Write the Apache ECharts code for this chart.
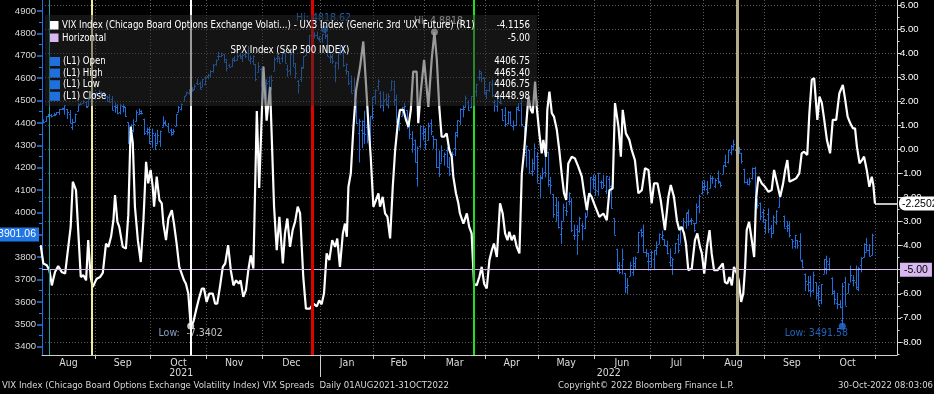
<!DOCTYPE html>
<html>
<head>
<meta charset="utf-8">
<script src="https://cdn.jsdelivr.net/npm/echarts@6.0.0/dist/echarts.min.js"></script>
<style>
html,body{margin:0;padding:0;background:#000;overflow:hidden}
#chart{width:934px;height:394px}
</style>
</head>
<body>
<div id="chart"></div>
<script>
// ================= DATA =================
// x axis = trading-day index counted from 02-Aug-2021 (Bloomberg trading-day spacing)
const monthNames    = ['Aug','Sep','Oct','Nov','Dec','Jan','Feb','Mar','Apr','May','Jun','Jul','Aug','Sep','Oct'];
const monthStartIdx = [0,22,43,64,85,107,127,146,169,189,210,231,251,274,295,316];
const yearNames     = ['2021','2022'];
const yearStartIdx  = [0,107];
const leftTicks  = [3400,3500,3600,3700,3800,3900,4000,4100,4200,4300,4400,4500,4600,4700,4800,4900];
const rightTicks = [-8,-7,-6,-5,-4,-3,-2,-1,0,1,2,3,4,5,6];

// SPX daily bars (Aug-2021 .. 28-Oct-2022), one row per month
const spxOpen = [
4406,4392,4415,4408,4429,4437,4436,4442,4447,4464,4462,4462,4441,4383,4406,4454,4484,4490,4493,4474,4514,4529,
4528,4534,4532,4536,4518,4514,4506,4474,4479,4447,4477,4469,4402,4375,4367,4410,4439,4443,4419,4363,4371,
4317,4348,4310,4319,4383,4406,4386,4368,4358,4386,4447,4464,4497,4524,4532,4553,4553,4579,4579,4562,4572,
4610,4614,4630,4662,4700,4701,4707,4670,4659,4655,4689,4679,4702,4700,4708,4712,4679,4675,4664,4628,4640,
4602,4505,4589,4548,4632,4691,4691,4688,4711,4642,4636,4720,4652,4587,4595,4645,4703,4733,4795,4788,4794,4775,
4778,4804,4787,4693,4697,4655,4669,4728,4733,4637,4632,4588,4548,4471,4357,4367,4408,4381,4337,4431,
4519,4566,4535,4482,4505,4480,4548,4553,4506,4412,4430,4456,4456,4385,4332,4324,4155,4299,4354,
4363,4322,4401,4343,4327,4203,4223,4253,4280,4203,4188,4288,4345,4407,4463,4469,4494,4470,4522,4541,4603,4624,4599,
4540,4547,4573,4495,4475,4494,4463,4437,4398,4449,4385,4390,4473,4490,4385,4256,4279,4187,4222,4253,
4130,4159,4181,4271,4128,4081,4035,3990,3903,3963,4013,4053,4051,3900,3928,3919,3943,3930,3985,4077,4151,
4149,4096,4137,4134,4097,4148,4101,3974,3838,3764,3764,3729,3665,3716,3733,3774,3821,3920,3913,3825,3785,
3782,3792,3831,3859,3889,3880,3851,3778,3764,3818,3883,3861,3936,3955,4001,3965,3954,3951,4027,4088,
4113,4105,4107,4154,4116,4156,4134,4171,4227,4225,4269,4284,4281,4274,4267,4195,4134,4127,4154,4199,4035,4042,4001,
3937,3994,3931,3910,3959,4023,4084,3986,3941,3932,3880,3849,3875,3871,3782,3727,3682,3687,3652,3688,3633,
3610,3726,3753,3771,3707,3647,3595,3590,3520,3691,3638,3746,3696,3689,3657,3763,3799,3825,3834,3808
];
const spxHigh = [
4422,4424,4416,4429,4440,4440,4445,4449,4461,4468,4480,4462,4457,4418,4441,4489,4492,4501,4496,4513,4538,4531,
4537,4546,4541,4536,4521,4529,4521,4492,4485,4486,4485,4471,4403,4394,4416,4457,4464,4457,4419,4379,4382,
4375,4356,4369,4365,4429,4412,4400,4375,4373,4439,4475,4487,4520,4540,4551,4560,4572,4598,4585,4597,4608,
4620,4635,4664,4683,4718,4714,4708,4685,4664,4688,4698,4714,4708,4708,4717,4744,4701,4702,4664,4672,4646,
4652,4595,4608,4613,4694,4705,4695,4713,4712,4660,4712,4731,4667,4592,4651,4697,4741,4791,4807,4805,4808,4787,
4797,4818.62,4798,4726,4708,4673,4714,4749,4745,4666,4632,4612,4602,4494,4417,4411,4454,4429,4432,4516,
4550,4595,4542,4540,4531,4532,4590,4589,4527,4427,4472,4490,4456,4395,4363,4325,4295,4385,4388,
4378,4401,4416,4343,4327,4277,4299,4268,4292,4247,4272,4358,4412,4465,4479,4522,4501,4520,4546,4575,4637,4627,4604,
4549,4583,4594,4503,4521,4521,4463,4471,4453,4452,4411,4471,4489,4512,4386,4300,4279,4240,4308,4270,
4169,4200,4308,4271,4158,4082,4069,4050,3964,4039,4047,4090,4063,3945,3944,3981,3955,3999,4075,4158,4169,
4167,4177,4143,4168,4164,4161,4120,3974,3838,3779,3838,3729,3707,3779,3801,3803,3914,3928,3946,3837,3819,
3830,3832,3871,3906,3919,3880,3874,3839,3796,3863,3903,3939,3975,3999,4013,3975,3954,4040,4079,4141,
4144,4141,4167,4162,4152,4187,4137,4211,4258,4280,4301,4325,4302,4292,4267,4195,4149,4156,4200,4204,4062,4044,4016,
3970,4018,3943,3987,4010,4077,4119,3986,3961,3959,3880,3900,3877,3907,3790,3727,3716,3717,3736,3688,3672,
3680,3792,3807,3797,3710,3652,3640,3608,3685,3712,3683,3762,3719,3763,3757,3800,3862,3886,3859,3905
];
const spxLow = [
4384,4373,4398,4404,4425,4424,4430,4436,4435,4460,4437,4418,4399,4368,4404,4451,4479,4486,4468,4474,4514,4513,
4522,4529,4521,4513,4494,4493,4457,4446,4438,4438,4447,4427,4306,4347,4359,4407,4437,4437,4346,4345,4306,
4289,4279,4304,4293,4383,4386,4360,4342,4348,4386,4447,4456,4496,4524,4526,4538,4547,4570,4551,4560,4568,
4595,4604,4624,4655,4681,4694,4670,4630,4648,4650,4672,4679,4688,4672,4690,4682,4662,4660,4586,4626,4560,
4510,4505,4496,4547,4632,4670,4666,4670,4667,4606,4612,4651,4598,4531,4583,4645,4703,4733,4780,4778,4775,4766,
4758,4775,4699,4667,4663,4582,4638,4703,4651,4615,4568,4533,4474,4395,4223,4287,4306,4309,4265,4415,
4484,4544,4465,4451,4477,4465,4548,4477,4401,4364,4429,4427,4373,4327,4267,4223,4115,4287,4322,
4279,4322,4345,4284,4199,4158,4223,4209,4202,4162,4188,4252,4335,4390,4425,4469,4455,4465,4501,4518,4589,4582,4530,
4507,4539,4514,4450,4450,4484,4409,4382,4393,4392,4367,4390,4455,4384,4268,4201,4175,4163,4188,4132,
4062,4148,4157,4115,4081,3976,3958,3928,3859,3963,3984,4033,3912,3877,3810,3909,3875,3925,3985,4077,4104,
4074,4074,4107,4109,4081,4107,4017,3900,3734,3725,3723,3639,3637,3716,3717,3743,3821,3889,3821,3800,3739,
3753,3742,3809,3859,3876,3850,3812,3758,3721,3818,3818,3861,3924,3927,3939,3944,3911,3951,3996,4079,
4097,4079,4107,4128,4108,4128,4112,4171,4202,4219,4256,4277,4254,4262,4218,4130,4124,4120,4147,4057,4017,3965,3955,
3904,3907,3886,3906,3945,4023,4084,3932,3912,3888,3838,3838,3838,3789,3750,3648,3644,3623,3641,3610,3584,
3590,3726,3723,3740,3632,3588,3568,3572,3491.58,3584,3638,3687,3669,3656,3648,3732,3799,3825,3803,3808
];
const spxClose = [
4387,4423,4402,4429,4437,4432,4436,4447,4460,4468,4479,4449,4400,4406,4442,4480,4486,4497,4470,4509,4529,4523,
4524,4537,4535,4520,4514,4493,4459,4469,4443,4481,4474,4433,4358,4354,4396,4449,4455,4443,4353,4359,4308,
4357,4300,4346,4364,4399,4391,4361,4351,4364,4438,4471,4486,4520,4537,4550,4545,4567,4575,4552,4596,4605,
4614,4631,4660,4680,4697,4702,4685,4646,4650,4683,4683,4701,4689,4705,4698,4683,4691,4701,4595,4655,4567,
4513,4577,4538,4592,4686,4701,4668,4712,4669,4634,4710,4669,4621,4568,4650,4697,4726,4791,4786,4793,4778,4766,
4797,4794,4701,4696,4677,4670,4713,4726,4659,4663,4577,4533,4483,4398,4410,4357,4350,4327,4432,4516,
4546,4589,4478,4501,4484,4522,4587,4504,4419,4401,4471,4475,4380,4349,4305,4226,4288,4385,4374,
4306,4387,4364,4329,4201,4171,4278,4260,4204,4173,4262,4358,4412,4463,4461,4512,4456,4520,4543,4575,4632,4602,4530,
4546,4583,4525,4481,4500,4488,4413,4397,4447,4392,4392,4463,4459,4394,4272,4296,4175,4184,4288,4132,
4155,4175,4301,4147,4123,3991,4001,3935,3930,4024,4008,4089,3923,3901,3901,3974,3941,3979,4058,4158,4132,
4101,4177,4109,4121,4161,4116,4018,3901,3750,3735,3790,3667,3675,3765,3760,3796,3912,3900,3821,3819,3785,
3825,3831,3845,3903,3899,3855,3819,3802,3790,3863,3831,3937,3960,3999,3962,3967,3921,4024,4072,4130,
4119,4091,4155,4152,4145,4140,4122,4210,4208,4280,4297,4305,4275,4284,4228,4138,4128,4141,4200,4058,4031,3986,3955,
3967,3924,3908,3980,4006,4067,4110,3932,3946,3901,3873,3900,3856,3789,3758,3693,3655,3647,3719,3640,3586,
3678,3791,3783,3745,3640,3612,3589,3577,3670,3583,3678,3720,3696,3666,3753,3797,3859,3831,3807,3901.06
];

// VIX Index - UX3 Index spread (R1): [trading-day position, value]
const spreadPoints = [
[1.1,-3.98],[2.1,-4.74],[3.4,-4.81],[4.4,-5.02],[5.3,-5.65],[6.5,-5.09],[7.7,-4.85],[9.0,-5.09],[10.3,-5.16],[11.5,-4.05],
[12.4,-3.22],[13.2,-1.34],[14.4,-1.69],[16.2,-5.30],[17.2,-5.23],[18.2,-5.44],[19.0,-3.77],[19.9,-5.30],[20.7,-5.72],[22.2,-5.37],
[23.5,-5.30],[24.5,-5.13],[25.7,-3.91],[26.6,-4.05],[27.6,-3.63],[28.5,-2.94],[29.1,-1.90],[30.0,-3.01],[30.7,-3.22],[32.0,-4.05],
[33.2,-4.12],[34.1,-2.73],[35.0,0.95],[35.8,0.26],[36.6,-2.38],[37.7,-3.77],[38.8,-4.68],[39.8,-2.94],[40.8,-0.51],[41.6,-1.41],
[42.5,-0.85],[43.3,-1.55],[43.8,-2.38],[44.8,-1.13],[45.8,-2.10],[46.7,-2.24],[47.3,-3.08],[48.3,-3.77],[49.2,-2.87],[50.5,-2.52],
[51.3,-3.08],[52.3,-3.91],[53.3,-4.88],[54.2,-5.16],[55.1,-5.44],[55.8,-5.58],[56.7,-5.99],[57.6,-7.3402],[58.6,-7.17],[59.6,-6.69],
[60.7,-6.20],[61.8,-5.78],[62.6,-5.78],[63.6,-6.34],[64.6,-5.99],[65.9,-5.99],[66.8,-6.41],[67.6,-6.41],[68.6,-5.72],[69.7,-4.88],
[70.6,-4.74],[71.7,-3.98],[72.7,-5.02],[73.7,-5.65],[74.7,-5.44],[75.7,-5.58],[76.4,-5.44],[77.4,-6.13],[78.4,-5.85],[79.3,-5.02],
[80.2,-4.40],[81.2,-4.95],[82.5,1.60],[83.4,-1.60],[85.0,3.45],[86.2,1.20],[87.5,2.60],[89.0,-2.38],[90.0,-4.19],[91.0,-2.80],
[92.3,-4.74],[93.1,-3.49],[94.0,-2.87],[95.0,-4.05],[96.0,-3.35],[96.9,-3.01],[97.9,-2.38],[98.8,-2.66],[100.0,-5.30],[101.0,-6.62],
[102.5,-6.62],[103.8,-6.41],[105.1,-6.52],[106.0,-6.27],[106.9,-6.44],[107.8,-5.99],[108.8,-4.32],[109.8,-4.60],[110.9,-3.77],[112.0,-4.05],
[112.8,-3.70],[113.8,-4.88],[114.9,-3.49],[115.7,-3.08],[116.4,-3.63],[117.0,-1.55],[117.9,-0.99],[118.9,0.95],[119.9,2.48],[121.4,3.45],
[122.6,4.49],[123.6,2.76],[124.5,1.09],[125.4,-0.30],[126.4,-2.38],[127.4,-2.10],[128.3,-1.82],[128.9,-2.38],[129.9,-1.97],[130.8,-2.66],
[131.7,-2.80],[132.7,-3.70],[133.7,-1.55],[134.6,-0.02],[135.6,1.09],[136.4,1.65],[137.7,1.65],[138.7,1.23],[139.6,0.95],[140.5,1.65],
[141.4,3.24],[142.7,3.24],[143.3,1.09],[144.2,2.34],[145.5,3.73],[146.2,2.90],[147.1,1.78],[148.4,3.80],[149.4,4.8818],[150.3,3.73],
[151.2,1.78],[152.1,0.53],[153.0,0.53],[154.0,0.67],[155.0,-0.02],[155.9,-0.30],[156.5,-1.13],[157.5,-1.82],[158.4,-2.24],[159.0,-2.66],
[160.3,-3.08],[161.6,-2.66],[162.5,-3.22],[163.4,-3.49],[164.3,-5.58],[165.3,-5.65],[166.3,-5.30],[167.2,-4.88],[168.1,-5.58],[169.1,-5.78],
[170.1,-4.60],[171.0,-4.19],[171.8,-3.91],[172.9,-4.47],[174.1,-2.24],[175.1,-2.66],[176.0,-3.49],[176.9,-3.77],[177.6,-3.42],[178.5,-3.77],
[179.4,-3.56],[180.4,-4.05],[181.4,-4.32],[182.3,-0.99],[183.2,-0.02],[183.9,0.95],[184.8,2.20],[185.7,1.65],[186.4,1.51],[187.3,2.82],
[187.9,1.78],[188.9,0.67],[189.8,-0.16],[190.4,0.40],[191.4,-0.30],[191.9,1.65],[192.7,2.41],[193.6,1.51],[194.4,1.37],[195.5,0.81],
[196.4,-0.02],[197.3,-0.99],[198.2,-1.82],[199.0,-2.10],[199.8,-0.58],[201.1,-0.30],[202.3,-0.37],[203.6,-0.72],[204.9,-1.13],[205.7,-1.76],
[206.8,-2.52],[207.7,-1.82],[208.6,-1.97],[209.5,-2.24],[210.5,-2.52],[211.5,-2.80],[213.0,-2.66],[214.3,-2.94],[215.3,-1.69],[216.5,-1.62],
[217.4,1.93],[218.7,0.95],[219.6,-0.30],[220.3,1.65],[221.5,0.67],[222.8,0.40],[223.7,-0.02],[224.9,-0.44],[226.2,-1.82],[227.5,-1.69],
[228.7,-0.78],[230.0,-0.85],[231.2,-2.24],[232.1,-1.41],[233.4,-1.41],[234.6,-2.10],[236.2,-3.35],[237.5,-1.97],[238.4,-1.48],[239.6,-1.97],
[240.7,-2.94],[241.6,-3.35],[242.5,-3.22],[243.4,-3.49],[244.1,-3.91],[245.0,-5.02],[246.3,-4.95],[247.5,-3.77],[248.4,-3.49],[249.4,-4.05],
[250.1,-4.32],[251.0,-5.16],[252.0,-4.05],[253.0,-3.35],[253.8,-4.32],[254.7,-5.02],[256.0,-5.02],[257.0,-4.88],[258.0,-4.74],[258.8,-5.51],
[259.7,-5.58],[260.5,-5.30],[261.4,-5.65],[262.2,-4.88],[263.3,-5.16],[264.0,-5.44],[264.9,-6.34],[265.7,-5.99],[266.4,-4.88],[267.0,-3.35],
[267.9,-3.01],[268.9,-3.77],[269.8,-4.47],[270.5,-2.10],[271.4,-1.13],[272.7,-1.41],[273.9,-1.55],[275.2,-1.76],[276.4,-1.69],[277.3,-0.85],
[278.3,-1.34],[279.6,-1.97],[280.6,-1.48],[281.5,-0.85],[282.3,-0.44],[283.1,-1.34],[284.4,-1.27],[285.6,-1.20],[286.8,-0.99],[287.7,-0.16],
[288.6,-0.09],[289.8,-0.23],[290.6,1.51],[291.5,2.90],[292.4,2.97],[293.6,1.23],[294.4,2.20],[295.3,1.93],[296.2,1.23],[297.2,0.40],
[298.4,-0.16],[299.4,1.23],[300.7,1.23],[301.9,2.34],[303.2,2.69],[304.1,2.06],[305.0,1.37],[306.0,1.09],[307.0,0.88],[307.8,0.88],
[308.5,0.12],[309.5,-0.58],[310.4,-0.44],[311.2,-0.30],[312.2,-0.85],[313.2,-1.55],[314.1,-1.13],[314.7,-1.48],[315.3,-2.2502]
];

const horizontalLevel = -5;
const eventDays = [4.4, 20.3, 57.7, 103.2, 164.3, 263.3];

const legendSpreadName = "VIX Index (Chicago Board Options Exchange Volati...) - UX3 Index (Generic 3rd 'UX' Future) (R1)";
const legendSpreadValue = '-4.1156';
const legendHorizontalName = 'Horizontal';
const legendHorizontalValue = '-5.00';
const legendSpxTitle = 'SPX Index (S&P 500 INDEX)';
const legendSpxNames = ['(L1) Open','(L1) High','(L1) Low','(L1) Close'];
const legendSpxValues = ['4406.75','4465.40','4406.75','4448.98'];
const footerLeft = 'VIX Index (Chicago Board Options Exchange Volatility Index) VIX Spreads  Daily 01AUG2021-31OCT2022';
const footerMid = 'Copyright\u00A9 2022 Bloomberg Finance L.P.';
const footerRight = '30-Oct-2022 08:03:06';

// ================= STYLE / LAYOUT =================
const NARROW = '"Liberation Sans Narrow","Arial Narrow","DejaVu Sans Condensed",sans-serif';
const SANS = '"Liberation Sans",Arial,sans-serif';
const BAR_COLOR = '#1f6fde';
const LAV = '#d9b8f0';
const GRID_COLOR = '#5c5c5c';
const eventColors = ['#1c9c9c','#f2e8a6','#ffffff','#e00000','#22dd22','#b4ab88'];
const eventWidths = [1, 2, 2, 3, 2, 3];
const X_MIN = 1.6, X_MAX = 323.6;
const L_MIN = 3362.9, L_MAX = 4949.2;
const R_MIN = -8.545, R_MAX = 6.216;

const monthBounds = monthStartIdx.slice(1).map(s => s - 0.5);
const monthCenters = monthNames.map((_, k) =>
  (Math.max(monthStartIdx[k] - 0.5, X_MIN) + monthStartIdx[k + 1] - 0.5) / 2);
const yearBounds = yearStartIdx.slice(1).map(s => s - 0.5);
const yearEdges = [X_MIN].concat(yearBounds, [X_MAX]);
const yearCenters = yearNames.map((_, k) => (yearEdges[k] + yearEdges[k + 1]) / 2);
function nearest(arr, v) {
  let b = 0;
  for (let k = 1; k < arr.length; k++) if (Math.abs(arr[k] - v) < Math.abs(arr[b] - v)) b = k;
  return b;
}
const leftMinor = leftTicks.map(t => t + 50);
const rightMinor = rightTicks.map(t => t + 0.5).concat([rightTicks[0] - 0.5]);

const spxBars = spxOpen.map((o, i) => [i, o, spxHigh[i], spxLow[i], spxClose[i]]);
const lastClose = spxClose[spxClose.length - 1];
let hiIdx = 0, loIdx = 0;
spxHigh.forEach((v, i) => { if (v > spxHigh[hiIdx]) hiIdx = i; });
spxLow.forEach((v, i) => { if (v < spxLow[loIdx]) loIdx = i; });
let sHi = 0, sLo = 0;
spreadPoints.forEach((p, i) => { if (p[1] > spreadPoints[sHi][1]) sHi = i; if (p[1] < spreadPoints[sLo][1]) sLo = i; });
const lastSpread = spreadPoints[spreadPoints.length - 1];

const chart = echarts.init(document.getElementById('chart'), null, { renderer: 'canvas' });

const txt = (text, x, y, size, opts) => Object.assign({
  type: 'text', z: 60, x: x, y: y, silent: true,
  style: Object.assign({ text: text, fill: '#ffffff', font: size + 'px ' + NARROW,
    verticalAlign: 'middle', textVerticalAlign: 'middle', align: 'left', textAlign: 'left' }, opts || {})
});
const rightTxt = (text, x, y, size) => txt(text, x, y, size, { align: 'right', textAlign: 'right' });
const LEG = 9.6;     // legend font size
const FOOT = 9.5;    // footer font size

const graphics = [
  { type: 'rect', z: 50, silent: true, shape: { x: 45, y: 15, width: 492, height: 91 },
    style: { fill: 'rgba(42,42,42,0.47)' } },
  { type: 'rect', z: 60, silent: true, shape: { x: 50, y: 21, width: 8.5, height: 8.5 }, style: { fill: '#ffffff' } },
  txt(legendSpreadName, 62, 25.5, LEG), rightTxt(legendSpreadValue, 530, 25.5, LEG),
  { type: 'rect', z: 60, silent: true, shape: { x: 50, y: 33.5, width: 8.5, height: 8.5 }, style: { fill: LAV } },
  txt(legendHorizontalName, 62, 38, LEG), rightTxt(legendHorizontalValue, 530, 38, LEG),
  txt(legendSpxTitle, 290, 50.5, LEG, { align: 'center', textAlign: 'center' })
];
legendSpxNames.forEach((n, k) => {
  const y = 61.5 + k * 11.6;
  graphics.push({ type: 'rect', z: 60, silent: true, shape: { x: 50, y: y - 4.5, width: 10, height: 9 }, style: { fill: BAR_COLOR } });
  graphics.push(txt(n, 63, y, LEG));
  graphics.push(rightTxt(legendSpxValues[k], 530, y, LEG));
});
graphics.push(txt(footerLeft, 2, 385.5, FOOT, { fill: '#d8d8d8' }));
graphics.push(txt(footerMid, 558, 385.5, FOOT, { fill: '#d8d8d8' }));
graphics.push(txt(footerRight, 933, 385.5, FOOT, { fill: '#d8d8d8', align: 'right', textAlign: 'right' }));

const option = {
  backgroundColor: '#000000',
  animation: false,
  textStyle: { fontFamily: SANS },
  grid: { left: 42, right: 37, top: 0, bottom: 39, containLabel: false, outerBoundsMode: 'none', show: false },
  xAxis: [
    {
      type: 'value', min: X_MIN, max: X_MAX, position: 'bottom',
      axisLine: { show: true, onZero: false, lineStyle: { color: '#cfcfcf', width: 1 } },
      axisTick: { show: true, customValues: monthBounds, length: 4, lineStyle: { color: '#cfcfcf' } },
      axisLabel: { show: true, customValues: monthCenters, margin: 3,
        formatter: v => monthNames[nearest(monthCenters, v)],
        color: '#dcdcdc', fontFamily: NARROW, fontSize: 10.5 },
      splitLine: { show: true, lineStyle: { color: GRID_COLOR, type: [1, 2], width: 1 } }
    },
    {
      type: 'value', min: X_MIN, max: X_MAX, position: 'bottom',
      axisLine: { show: false, onZero: false },
      axisTick: { show: true, customValues: yearBounds, length: 22, lineStyle: { color: '#cfcfcf' } },
      axisLabel: { show: true, customValues: yearCenters, margin: 13,
        formatter: v => yearNames[nearest(yearCenters, v)],
        color: '#dcdcdc', fontFamily: NARROW, fontSize: 10.5 },
      splitLine: { show: false }
    }
  ],
  yAxis: [
    {
      type: 'value', position: 'left', min: L_MIN, max: L_MAX,
      axisLine: { show: true, onZero: false, lineStyle: { color: BAR_COLOR } },
      axisTick: { show: true, customValues: leftTicks, length: 5, lineStyle: { color: '#2a7be8', width: 1.5 } },
      axisLabel: { show: true, customValues: leftTicks, formatter: v => String(Math.round(v)),
        color: '#d8d8d8', fontSize: 9.5, margin: 6, fontFamily: SANS },
      splitLine: { show: false }
    },
    {
      type: 'value', position: 'right', min: R_MIN, max: R_MAX,
      axisLine: { show: true, onZero: false, lineStyle: { color: '#d8d8d8' } },
      axisTick: { show: true, customValues: rightTicks, length: 4, lineStyle: { color: '#d8d8d8' } },
      axisLabel: { show: true, customValues: rightTicks, formatter: v => Number(v).toFixed(2),
        color: '#ffffff', fontSize: 9.5, margin: 3, fontFamily: SANS },
      splitLine: { show: true, lineStyle: { color: GRID_COLOR, type: [1, 2], width: 1 } }
    },
    {
      type: 'value', position: 'left', min: L_MIN, max: L_MAX,
      axisLine: { show: false, onZero: false },
      axisTick: { show: true, customValues: leftMinor, length: 3, lineStyle: { color: '#2a7be8' } },
      axisLabel: { show: false }, splitLine: { show: false }
    },
    {
      type: 'value', position: 'right', min: R_MIN, max: R_MAX,
      axisLine: { show: false, onZero: false },
      axisTick: { show: true, customValues: rightMinor, length: 2.5, lineStyle: { color: '#d8d8d8' } },
      axisLabel: { show: false }, splitLine: { show: false }
    }
  ],
  series: [
    {
      type: 'custom', name: 'SPX', xAxisIndex: 0, yAxisIndex: 0, z: 2, clip: true, silent: true,
      data: spxBars,
      encode: { x: 0, y: [1, 2, 3, 4] },
      renderItem: function (params, api) {
        const x = api.value(0);
        const pO = api.coord([x, api.value(1)]);
        const pH = api.coord([x, api.value(2)]);
        const pL = api.coord([x, api.value(3)]);
        const pC = api.coord([x, api.value(4)]);
        const cx = Math.round(pH[0]) + 0.5;
        const st = { stroke: BAR_COLOR, lineWidth: 1 };
        const yo = Math.round(pO[1]) + 0.5, yc = Math.round(pC[1]) + 0.5;
        return { type: 'group', children: [
          { type: 'line', shape: { x1: cx, y1: pH[1], x2: cx, y2: pL[1] }, style: st },
          { type: 'line', shape: { x1: cx - 1.5, y1: yo, x2: cx, y2: yo }, style: st },
          { type: 'line', shape: { x1: cx, y1: yc, x2: cx + 1.5, y2: yc }, style: st }
        ] };
      },
      markLine: {
        silent: true, symbol: ['none', 'none'], animation: false,
        lineStyle: { color: 'rgba(0,0,0,0)', width: 1, type: 'solid' },
        data: [{ yAxis: lastClose }],
        label: { show: true, position: 'start', distance: 3, formatter: lastClose.toFixed(2),
          backgroundColor: '#2176e6', color: '#ffffff', fontSize: 10.5, fontFamily: SANS, padding: [2, 3, 1, 3] }
      }
    },
    {
      type: 'line', name: 'Horizontal', xAxisIndex: 0, yAxisIndex: 1, data: [], z: 3, silent: true,
      markLine: {
        silent: true, symbol: ['none', 'none'], animation: false,
        lineStyle: { color: LAV, width: 1, type: 'solid' },
        data: [{ yAxis: horizontalLevel }],
        label: { show: true, position: 'end', distance: 3, formatter: horizontalLevel.toFixed(2),
          backgroundColor: LAV, color: '#000000', fontSize: 10.5, fontFamily: SANS, padding: [2, 4, 1, 4] }
      }
    },
    {
      type: 'line', name: 'Spread', xAxisIndex: 0, yAxisIndex: 1, z: 4, silent: true,
      data: spreadPoints, showSymbol: false, symbol: 'none',
      lineStyle: { color: '#ffffff', width: 2.2 },
      markLine: {
        silent: true, symbol: ['none', 'none'], animation: false,
        lineStyle: { color: '#ffffff', width: 1.5, type: 'solid' },
        data: [[{ coord: [lastSpread[0], lastSpread[1]] }, { coord: [X_MAX, lastSpread[1]] }]],
        label: { show: true, position: 'end', distance: 2, formatter: lastSpread[1].toFixed(4),
          backgroundColor: '#ffffff', color: '#000000', fontSize: 10.5, fontFamily: SANS,
          padding: [2, 3, 1, 3], borderRadius: [6, 0, 0, 6] }
      }
    },
    {
      type: 'line', name: 'Events', xAxisIndex: 0, yAxisIndex: 1, data: [], z: 5, silent: true,
      markLine: {
        silent: true, symbol: ['none', 'none'], animation: false, label: { show: false },
        data: eventDays.map((d, i) => ({ xAxis: d, lineStyle: { color: eventColors[i], width: eventWidths[i], type: 'solid' } }))
      }
    },
    {
      type: 'scatter', name: 'SpreadExtremes', xAxisIndex: 0, yAxisIndex: 1, z: 6, silent: true,
      symbol: 'circle', symbolSize: 7, itemStyle: { color: '#ffffff' },
      data: [
        { value: spreadPoints[sLo],
          label: { show: true, position: 'bottom', distance: 0, offset: [0, -2],
            formatter: '{a|Low:}  {b|' + spreadPoints[sLo][1].toFixed(4) + '}',
            rich: { a: { color: '#a9c6ee', fontFamily: NARROW, fontSize: 10.5 },
                    b: { color: '#f0f0f0', fontFamily: NARROW, fontSize: 10.5 } } } },
        { value: spreadPoints[sHi],
          label: { show: true, position: 'top', distance: 2, offset: [4, 0],
            formatter: 'Hi: ' + spreadPoints[sHi][1].toFixed(4),
            color: '#ffffff', fontFamily: NARROW, fontSize: 10.5 } }
      ]
    },
    {
      type: 'scatter', name: 'SpxExtremes', xAxisIndex: 0, yAxisIndex: 0, z: 6, silent: true,
      symbol: 'circle', symbolSize: 7, itemStyle: { color: '#2176e6' },
      data: [
        { value: [hiIdx, spxHigh[hiIdx]],
          label: { show: true, position: 'top', distance: 2, offset: [-1, 0],
            formatter: 'Hi: ' + spxHigh[hiIdx].toFixed(2), color: '#2a7be8', fontFamily: NARROW, fontSize: 10.5 } },
        { value: [loIdx, spxLow[loIdx]],
          label: { show: true, position: 'bottom', distance: 0, offset: [-26, -2],
            formatter: 'Low: ' + spxLow[loIdx].toFixed(2), color: '#2a7be8', fontFamily: NARROW, fontSize: 10.5 } }
      ]
    }
  ],
  graphic: { elements: graphics }
};
chart.setOption(option);
</script>
</body>
</html>
